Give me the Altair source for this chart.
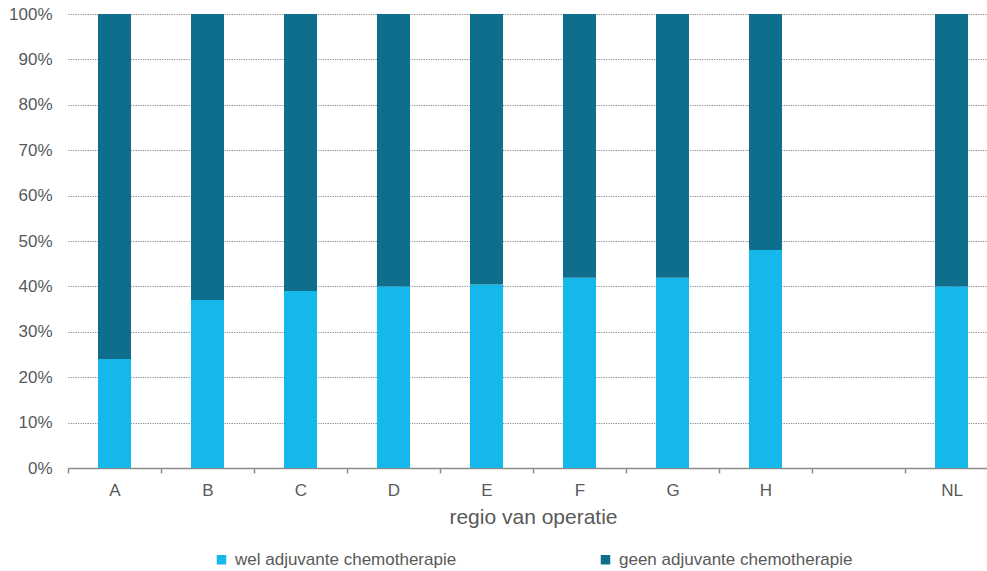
import altair as alt
import pandas as pd

# Share of patients per region of surgery (percent receiving adjuvant chemo)
regions = ["A", "B", "C", "D", "E", "F", "G", "H", " ", "NL"]
wel_pct = [24.0, 37.0, 39.0, 40.0, 40.4, 41.9, 41.9, 48.0, None, 40.0]
series = ["wel adjuvante chemotherapie", "geen adjuvante chemotherapie"]
colors = ["#14B8EB", "#0E6E8C"]

rows = []
for region, wel in zip(regions, wel_pct):
    if wel is None:
        continue
    rows.append({"regio": region, "groep": series[0], "pct": wel / 100, "volgorde": 0})
    rows.append({"regio": region, "groep": series[1], "pct": (100 - wel) / 100, "volgorde": 1})
df = pd.DataFrame(rows)

FONT = "Liberation Sans"
GREY = "#595959"

bars = alt.Chart(df).mark_bar(size=33).encode(
    x=alt.X(
        "regio:N",
        sort=regions,
        scale=alt.Scale(domain=regions, range=[0, 930], paddingInner=0, paddingOuter=0),
        axis=alt.Axis(
            title="regio van operatie",
            labelAngle=0,
            tickBand="extent",
            tickSize=5,
            tickColor="#8c8c8c",
            tickWidth=1.5,
            domainColor="#8c8c8c",
            domainWidth=1.5,
            labelPadding=9,
            labelFontSize=17,
            labelColor=GREY,
            titleFontSize=21,
            titleFontWeight="normal",
            titleColor=GREY,
            titlePadding=8,
            grid=False,
        ),
    ),
    y=alt.Y(
        "pct:Q",
        stack="zero",
        scale=alt.Scale(domain=[0, 1], nice=False),
        axis=alt.Axis(
            title=None,
            format=".0%",
            values=[i / 10 for i in range(11)],
            domain=False,
            ticks=False,
            labelPadding=16,
            labelFontSize=17,
            labelColor=GREY,
            grid=True,
            gridColor="#8a8a8a",
            gridDash=[1.2, 1.2],
            gridWidth=1.2,
        ),
    ),
    color=alt.Color(
        "groep:N",
        scale=alt.Scale(domain=series, range=colors),
        legend=alt.Legend(
            title=None,
            orient="none",
            direction="horizontal",
            legendX=145,
            legendY=537,
            symbolType="square",
            symbolSize=90,
            symbolStrokeWidth=0,
            labelFontSize=17,
            labelColor=GREY,
            labelOffset=5,
            labelLimit=400,
            columnPadding=140,
        ),
    ),
    order=alt.Order("volgorde:Q"),
)

chart = bars.properties(
    width=919,
    height=454,
    autosize=alt.AutoSizeParams(type="none"),
    padding={"left": 68, "top": 14, "right": 0, "bottom": 103},
).configure(font=FONT).configure_view(stroke=None)

chart.save("out.html", embed_options={"renderer": "svg", "actions": False})
